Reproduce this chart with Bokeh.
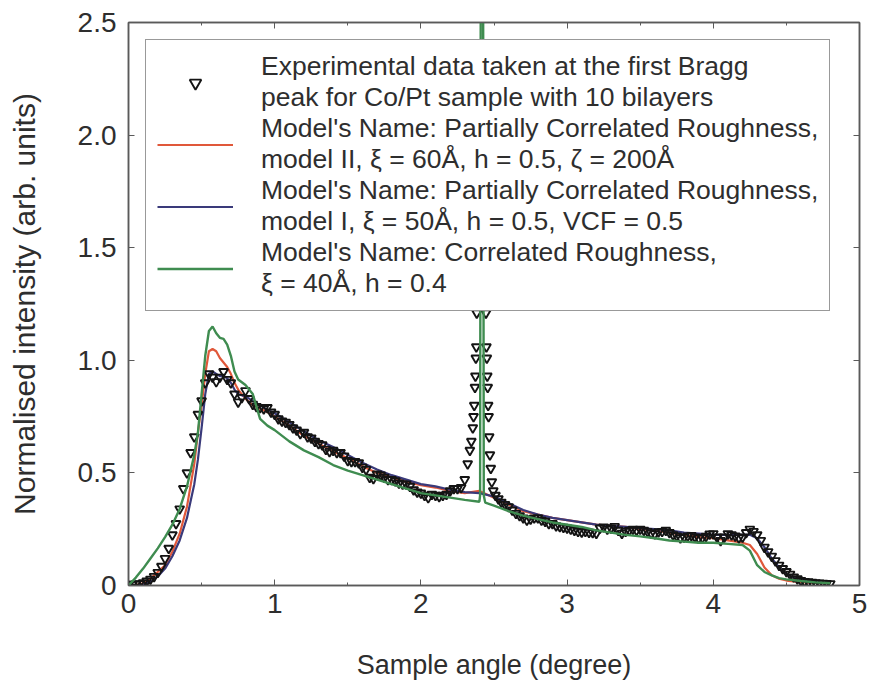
from bokeh.plotting import figure
from bokeh.models import Range1d, FixedTicker, LinearAxis, Legend, LegendItem
from bokeh.embed import file_html
from bokeh.resources import INLINE

# ---------------- data ----------------
exp_x = [0.000, 0.025, 0.050, 0.075, 0.100, 0.125, 0.150, 0.175, 0.200, 0.225,
         0.250, 0.275, 0.300, 0.325, 0.350, 0.375, 0.400, 0.425, 0.450, 0.475,
         0.500, 0.525, 0.550, 0.575, 0.600, 0.625, 0.650, 0.675, 0.700, 0.725,
         0.750, 0.775, 0.800, 0.825, 0.850, 0.875, 0.900, 0.925, 0.950, 0.975,
         1.000, 1.025, 1.050, 1.075, 1.100, 1.125, 1.150, 1.175, 1.200, 1.225,
         1.250, 1.275, 1.300, 1.325, 1.350, 1.375, 1.400, 1.425, 1.450, 1.475,
         1.500, 1.525, 1.550, 1.575, 1.600, 1.625, 1.650, 1.675, 1.700, 1.725,
         1.750, 1.775, 1.800, 1.825, 1.850, 1.875, 1.900, 1.925, 1.950, 1.975,
         2.000, 2.025, 2.050, 2.075, 2.100, 2.125, 2.150, 2.175, 2.200, 2.225,
         2.250, 2.275, 2.300, 2.320, 2.335, 2.345, 2.355, 2.360, 2.365, 2.370,
         2.373, 2.376, 2.379, 2.382, 2.390, 2.400, 2.410, 2.420, 2.430, 2.440,
         2.445, 2.448, 2.451, 2.454, 2.457, 2.460, 2.463, 2.467, 2.472, 2.478,
         2.485, 2.495, 2.510, 2.530, 2.550, 2.575, 2.600, 2.625, 2.650, 2.675,
         2.700, 2.725, 2.750, 2.775, 2.800, 2.825, 2.850, 2.875, 2.900, 2.925,
         2.950, 2.975, 3.000, 3.025, 3.050, 3.075, 3.100, 3.125, 3.150, 3.175,
         3.200, 3.225, 3.250, 3.275, 3.300, 3.325, 3.350, 3.375, 3.400, 3.425,
         3.450, 3.475, 3.500, 3.525, 3.550, 3.575, 3.600, 3.625, 3.650, 3.675,
         3.700, 3.725, 3.750, 3.775, 3.800, 3.825, 3.850, 3.875, 3.900, 3.925,
         3.950, 3.975, 4.000, 4.025, 4.050, 4.075, 4.100, 4.125, 4.150, 4.175,
         4.200, 4.225, 4.250, 4.275, 4.300, 4.325, 4.350, 4.375, 4.400, 4.425,
         4.450, 4.475, 4.500, 4.525, 4.550, 4.575, 4.600, 4.625, 4.650, 4.675,
         4.700, 4.725, 4.750, 4.775, 4.800]
exp_y = [0.005, 0.005, 0.006, 0.008, 0.012, 0.020, 0.028, 0.040, 0.058, 0.085,
         0.120, 0.165, 0.225, 0.275, 0.340, 0.430, 0.500, 0.590, 0.660, 0.760,
         0.820, 0.900, 0.940, 0.925, 0.905, 0.925, 0.950, 0.915, 0.900, 0.850,
         0.815, 0.835, 0.865, 0.830, 0.805, 0.795, 0.790, 0.785, 0.790, 0.770,
         0.760, 0.740, 0.730, 0.725, 0.715, 0.700, 0.690, 0.675, 0.680, 0.660,
         0.655, 0.640, 0.630, 0.625, 0.605, 0.595, 0.600, 0.590, 0.590, 0.575,
         0.555, 0.550, 0.550, 0.545, 0.525, 0.515, 0.480, 0.475, 0.495, 0.490,
         0.480, 0.470, 0.470, 0.465, 0.455, 0.450, 0.450, 0.440, 0.425, 0.415,
         0.410, 0.400, 0.390, 0.405, 0.400, 0.395, 0.400, 0.405, 0.420, 0.430,
         0.430, 0.435, 0.470, 0.540, 0.600, 0.640, 0.700, 0.750, 0.800, 0.880,
         0.930, 1.010, 1.060, 1.210, 1.500, 1.900, 2.200, 2.200, 1.900, 1.500,
         1.210, 1.060, 1.010, 0.930, 0.880, 0.800, 0.750, 0.660, 0.580, 0.520,
         0.460, 0.420, 0.400, 0.385, 0.370, 0.360, 0.350, 0.335, 0.320, 0.310,
         0.300, 0.290, 0.295, 0.300, 0.300, 0.290, 0.285, 0.275, 0.275, 0.265,
         0.262, 0.258, 0.255, 0.250, 0.245, 0.240, 0.237, 0.240, 0.236, 0.235,
         0.232, 0.255, 0.260, 0.250, 0.255, 0.262, 0.245, 0.232, 0.240, 0.245,
         0.250, 0.245, 0.250, 0.245, 0.240, 0.232, 0.230, 0.238, 0.240, 0.245,
         0.235, 0.225, 0.220, 0.212, 0.215, 0.220, 0.222, 0.215, 0.210, 0.212,
         0.218, 0.228, 0.230, 0.215, 0.200, 0.215, 0.230, 0.225, 0.220, 0.212,
         0.215, 0.235, 0.250, 0.240, 0.225, 0.200, 0.170, 0.150, 0.130, 0.110,
         0.090, 0.075, 0.062, 0.050, 0.038, 0.030, 0.022, 0.018, 0.016, 0.014,
         0.012, 0.011, 0.010, 0.009, 0.008]

model_x = [0.0, 0.05, 0.1, 0.15, 0.2, 0.25, 0.3, 0.35, 0.4, 0.45,
           0.475, 0.5, 0.525, 0.55, 0.575, 0.6, 0.625, 0.65, 0.675, 0.7,
           0.725, 0.75, 0.8, 0.85, 0.9, 0.95, 1.0, 1.1, 1.2, 1.3,
           1.4, 1.5, 1.6, 1.7, 1.8, 1.9, 2.0, 2.1, 2.2, 2.3,
           2.4, 2.5, 2.6, 2.7, 2.8, 2.9, 3.0, 3.1, 3.2, 3.3,
           3.4, 3.5, 3.6, 3.7, 3.8, 3.9, 4.0, 4.1, 4.2, 4.25,
           4.3, 4.35, 4.4, 4.45, 4.5, 4.55, 4.6, 4.7, 4.8]
red_y = [0.0, 0.002, 0.01, 0.03, 0.06, 0.09, 0.15, 0.23, 0.35, 0.54,
         0.68, 0.80, 0.94, 1.04, 1.05, 1.04, 1.01, 0.99, 0.97, 0.94,
         0.90, 0.87, 0.83, 0.80, 0.785, 0.77, 0.75, 0.71, 0.665, 0.63,
         0.595, 0.565, 0.53, 0.50, 0.48, 0.46, 0.445, 0.435, 0.42, 0.41,
         0.42, 0.39, 0.36, 0.33, 0.315, 0.30, 0.29, 0.28, 0.27, 0.265,
         0.26, 0.25, 0.245, 0.235, 0.225, 0.215, 0.21, 0.20, 0.19, 0.18,
         0.14, 0.08, 0.045, 0.03, 0.022, 0.018, 0.015, 0.012, 0.01]
blue_y = [0.0, 0.0, 0.003, 0.015, 0.04, 0.075, 0.13, 0.20, 0.30, 0.45,
          0.56, 0.70, 0.85, 0.94, 0.95, 0.94, 0.93, 0.93, 0.92, 0.90,
          0.87, 0.85, 0.84, 0.82, 0.80, 0.78, 0.765, 0.725, 0.685, 0.645,
          0.615, 0.58, 0.545, 0.515, 0.49, 0.47, 0.45, 0.44, 0.425, 0.415,
          0.41, 0.395, 0.365, 0.335, 0.315, 0.30, 0.29, 0.28, 0.27, 0.265,
          0.26, 0.255, 0.25, 0.245, 0.235, 0.23, 0.225, 0.225, 0.225, 0.225,
          0.21, 0.17, 0.12, 0.08, 0.05, 0.035, 0.025, 0.015, 0.01]

green_x = [0.0, 0.05, 0.1, 0.15, 0.2, 0.25, 0.3, 0.35, 0.4, 0.45,
           0.475, 0.5, 0.525, 0.55, 0.575, 0.6, 0.625, 0.65, 0.675, 0.7,
           0.725, 0.75, 0.8, 0.85, 0.9, 0.95, 1.0, 1.1, 1.2, 1.3,
           1.4, 1.5, 1.6, 1.7, 1.8, 1.9, 2.0, 2.1, 2.2, 2.3,
           2.4, 2.405, 2.41, 2.425, 2.43, 2.44, 2.5, 2.6, 2.7, 2.8,
           2.9, 3.0, 3.1, 3.2, 3.3, 3.4, 3.5, 3.6, 3.7, 3.8,
           3.9, 4.0, 4.1, 4.2, 4.25, 4.3, 4.35, 4.4, 4.45, 4.5,
           4.6, 4.7, 4.8]
green_y = [0.0, 0.035, 0.075, 0.12, 0.165, 0.215, 0.27, 0.34, 0.44, 0.58,
           0.68, 0.85, 1.02, 1.13, 1.15, 1.12, 1.10, 1.095, 1.07, 1.02,
           0.95, 0.915, 0.89, 0.85, 0.74, 0.71, 0.69, 0.64, 0.60, 0.57,
           0.535, 0.51, 0.49, 0.47, 0.45, 0.43, 0.41, 0.40, 0.39, 0.38,
           0.372, 0.40, 3.0, 3.0, 0.40, 0.368, 0.355, 0.33, 0.31, 0.295,
           0.28, 0.27, 0.26, 0.245, 0.235, 0.225, 0.218, 0.21, 0.20, 0.195,
           0.19, 0.19, 0.185, 0.18, 0.155, 0.09, 0.06, 0.045, 0.033, 0.027,
           0.02, 0.014, 0.01]

x_ticks = [0, 1, 2, 3, 4, 5]
x_minor_ticks = [0.5, 1.5, 2.5, 3.5, 4.5]
y_ticks = [0, 0.5, 1, 1.5, 2, 2.5]
y_tick_labels = ["0", "0.5", "1.0", "1.5", "2.0", "2.5"]

legend_labels = [
    "Experimental data taken at the first Bragg\npeak for Co/Pt sample with 10 bilayers",
    "Model's Name: Partially Correlated Roughness,\nmodel II, \u03be = 60\u00c5, h = 0.5, \u03b6 = 200\u00c5",
    "Model's Name: Partially Correlated Roughness,\nmodel I, \u03be = 50\u00c5, h = 0.5, VCF = 0.5",
    "Model's Name: Correlated Roughness,\n\u03be = 40\u00c5, h = 0.4",
]

FONT = "Liberation Sans"
TXT = "#2e2e2e"
AX = "#5a5a5a"

p = figure(frame_width=731, frame_height=563,
           x_range=Range1d(0, 5), y_range=Range1d(0, 2.5),
           output_backend="svg", toolbar_location=None,
           min_border_left=128, min_border_right=10,
           min_border_top=22, min_border_bottom=101,
           x_axis_label="Sample angle (degree)",
           y_axis_label="Normalised intensity (arb. units)")
p.grid.visible = False
p.outline_line_color = AX
p.outline_line_width = 1.5
p.background_fill_color = "white"
p.border_fill_color = "white"

xa = p.xaxis[0]
xa.ticker = FixedTicker(ticks=x_ticks, minor_ticks=x_minor_ticks)
ya = p.yaxis[0]
ya.ticker = FixedTicker(ticks=y_ticks, minor_ticks=[])
ya.major_label_overrides = {t: s for t, s in zip(y_ticks, y_tick_labels)}

for ax in (xa, ya):
    ax.axis_line_color = AX
    ax.axis_line_width = 1.5
    ax.major_tick_line_color = AX
    ax.minor_tick_line_color = AX
    ax.major_tick_in = 6
    ax.major_tick_out = 0
    ax.minor_tick_in = 3
    ax.minor_tick_out = 0
    ax.major_label_text_font = FONT
    ax.major_label_text_font_size = "28px"
    ax.major_label_text_color = TXT
    ax.axis_label_text_font = FONT
    ax.axis_label_text_font_style = "normal"
    ax.axis_label_text_color = TXT
xa.axis_label_text_font_size = "27px"
ya.axis_label_text_font_size = "30px"
xa.major_label_standoff = 8
ya.major_label_standoff = 12
xa.axis_label_standoff = 34
ya.axis_label_standoff = 34

# box ticks on the right and top (no labels drawn)
ra = LinearAxis(ticker=FixedTicker(ticks=y_ticks, minor_ticks=[]),
                major_label_text_font_size="1px", major_label_text_color=None,
                major_label_standoff=0,
                axis_line_color=AX, axis_line_width=1.5,
                major_tick_line_color=AX, major_tick_in=6, major_tick_out=0,
                minor_tick_line_color=None)
ta = LinearAxis(ticker=FixedTicker(ticks=x_ticks, minor_ticks=x_minor_ticks),
                major_label_text_font_size="1px", major_label_text_color=None,
                major_label_standoff=0,
                axis_line_color=AX, axis_line_width=1.5,
                major_tick_line_color=AX, major_tick_in=6, major_tick_out=0,
                minor_tick_line_color=AX, minor_tick_in=3, minor_tick_out=0)
p.add_layout(ra, "right")
p.add_layout(ta, "above")

r_red = p.line(model_x, red_y, line_color="#e0583a", line_width=2.2)
r_blue = p.line(model_x, blue_y, line_color="#3a3a7a", line_width=2.2)
r_exp = p.scatter(exp_x, exp_y, marker="inverted_triangle", size=9,
                  line_color="#141414", fill_color=None, line_width=1.9)
r_green = p.line(green_x, green_y, line_color="#3f8c50", line_width=2.4)

legend = Legend(
    items=[LegendItem(label=legend_labels[0], renderers=[r_exp]),
           LegendItem(label=legend_labels[1], renderers=[r_red]),
           LegendItem(label=legend_labels[2], renderers=[r_blue]),
           LegendItem(label=legend_labels[3], renderers=[r_green])],
    location="top_left", margin=17, padding=11, spacing=0,
    glyph_width=76, glyph_height=29, label_standoff=28,
    label_text_font=FONT, label_text_font_size="26.5px",
    label_text_line_height=1.04, label_text_color=TXT,
    border_line_color="#333333", border_line_width=1.5,
    background_fill_color="white", background_fill_alpha=1.0,
)
p.add_layout(legend)

open("out.html", "w").write(file_html(p, INLINE))
